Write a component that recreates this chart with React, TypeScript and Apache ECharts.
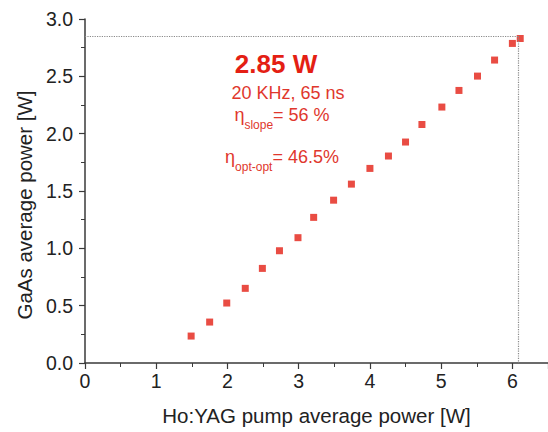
import React, { useEffect, useRef } from "react";
import * as echarts from "echarts";

const pumpPower = [1.49, 1.75, 1.99, 2.25, 2.49, 2.73, 2.99, 3.21, 3.49, 3.74, 4.0, 4.26, 4.5, 4.73, 5.01, 5.25, 5.51, 5.75, 6.0, 6.11];
const outputPower = [0.235, 0.357, 0.523, 0.651, 0.825, 0.979, 1.093, 1.27, 1.42, 1.56, 1.697, 1.805, 1.927, 2.08, 2.232, 2.377, 2.502, 2.642, 2.787, 2.83];
const peakPower = 2.85;
const peakPump = 6.08;
const xName = "Ho:YAG pump average power [W]";
const yName = "GaAs average power [W]";
const annoTitle = "2.85 W";
const annoRate = "20 KHz, 65 ns";

const FONT = "Liberation Sans, Arial, Helvetica, sans-serif";
const RED = "#e41f14";
const TXT = "#e0372d";
const AXIS = "#3a3a3a";

export default function App() {
  const ref = useRef<HTMLDivElement>(null);
  useEffect(() => {
    if (!ref.current) return;
    const chart = echarts.init(ref.current, undefined, { renderer: "svg" });
    const data = pumpPower.map((x, i) => [x, outputPower[i]]);
    chart.setOption({
      animation: false,
      backgroundColor: "#ffffff",
      grid: { left: 85, right: -2, top: 19, bottom: 69, containLabel: false },
      xAxis: {
        type: "value",
        min: 0,
        max: 6.5,
        interval: 1,
        name: xName,
        nameLocation: "middle",
        nameGap: 42,
        nameTextStyle: { fontFamily: FONT, fontSize: 20.5, color: "#222" },
        axisLine: { show: true, lineStyle: { color: AXIS, width: 1.5 } },
        axisTick: { show: true, inside: false, length: 6, lineStyle: { color: AXIS, width: 1.2 } },
        minorTick: { show: true, splitNumber: 2, length: 4, lineStyle: { color: AXIS, width: 1 } },
        splitLine: { show: false },
        axisLabel: { fontFamily: FONT, fontSize: 19.5, color: "#222", margin: 8, showMaxLabel: false },
      },
      yAxis: {
        type: "value",
        min: 0,
        max: 3,
        interval: 0.5,
        name: yName,
        nameLocation: "middle",
        nameGap: 50,
        nameTextStyle: { fontFamily: FONT, fontSize: 20.5, color: "#222", padding: [0, 28, 0, 0] },
        axisLine: { show: true, lineStyle: { color: AXIS, width: 1.5 } },
        axisTick: { show: true, inside: false, length: 6, lineStyle: { color: AXIS, width: 1.2 } },
        minorTick: { show: true, splitNumber: 2, length: 4, lineStyle: { color: AXIS, width: 1 } },
        splitLine: { show: false },
        axisLabel: {
          fontFamily: FONT,
          fontSize: 19.5,
          color: "#222",
          margin: 12,
          formatter: (v: number) => v.toFixed(1),
        },
      },
      series: [
        {
          type: "scatter",
          data,
          symbol: "rect",
          symbolSize: 7,
          itemStyle: { color: RED },
          markLine: {
            silent: true,
            symbol: "none",
            label: { show: false },
            lineStyle: { color: "#8a8a8a", type: "dotted", width: 1.2 },
            data: [
              [{ coord: [0, peakPower] }, { coord: [peakPump, peakPower] }],
              [{ coord: [peakPump, peakPower] }, { coord: [peakPump, 0] }],
            ],
          },
        },
      ],
      graphic: [
        {
          type: "text",
          x: 276,
          y: 64,
          style: {
            text: annoTitle,
            fill: RED,
            font: `bold 26px ${FONT}`,
            align: "center",
            verticalAlign: "middle",
          },
        },
        {
          type: "text",
          x: 288,
          y: 93,
          style: {
            text: annoRate,
            fill: TXT,
            font: `18px ${FONT}`,
            align: "center",
            verticalAlign: "middle",
          },
        },
        {
          type: "text",
          x: 282,
          y: 115,
          style: {
            text: "{e|η}{s|slope}{m|= 56 %}",
            align: "center",
            verticalAlign: "middle",
            rich: {
              e: { fontFamily: FONT, fontSize: 18, fill: TXT, lineHeight: 32, verticalAlign: "middle" },
              s: { fontFamily: FONT, fontSize: 12, fill: TXT, lineHeight: 14, verticalAlign: "bottom" },
              m: { fontFamily: FONT, fontSize: 18, fill: TXT, lineHeight: 32, verticalAlign: "middle" },
            },
          },
        },
        {
          type: "text",
          x: 282,
          y: 157,
          style: {
            text: "{e|η}{s|opt-opt}{m|= 46.5%}",
            align: "center",
            verticalAlign: "middle",
            rich: {
              e: { fontFamily: FONT, fontSize: 18, fill: TXT, lineHeight: 32, verticalAlign: "middle" },
              s: { fontFamily: FONT, fontSize: 12, fill: TXT, lineHeight: 14, verticalAlign: "bottom" },
              m: { fontFamily: FONT, fontSize: 18, fill: TXT, lineHeight: 32, verticalAlign: "middle" },
            },
          },
        },
      ],
    });
    return () => chart.dispose();
  }, []);
  return (
    <div
      ref={ref}
      style={{ position: "fixed", left: 0, top: 0, width: 548, height: 432, background: "#fff" }}
    />
  );
}
